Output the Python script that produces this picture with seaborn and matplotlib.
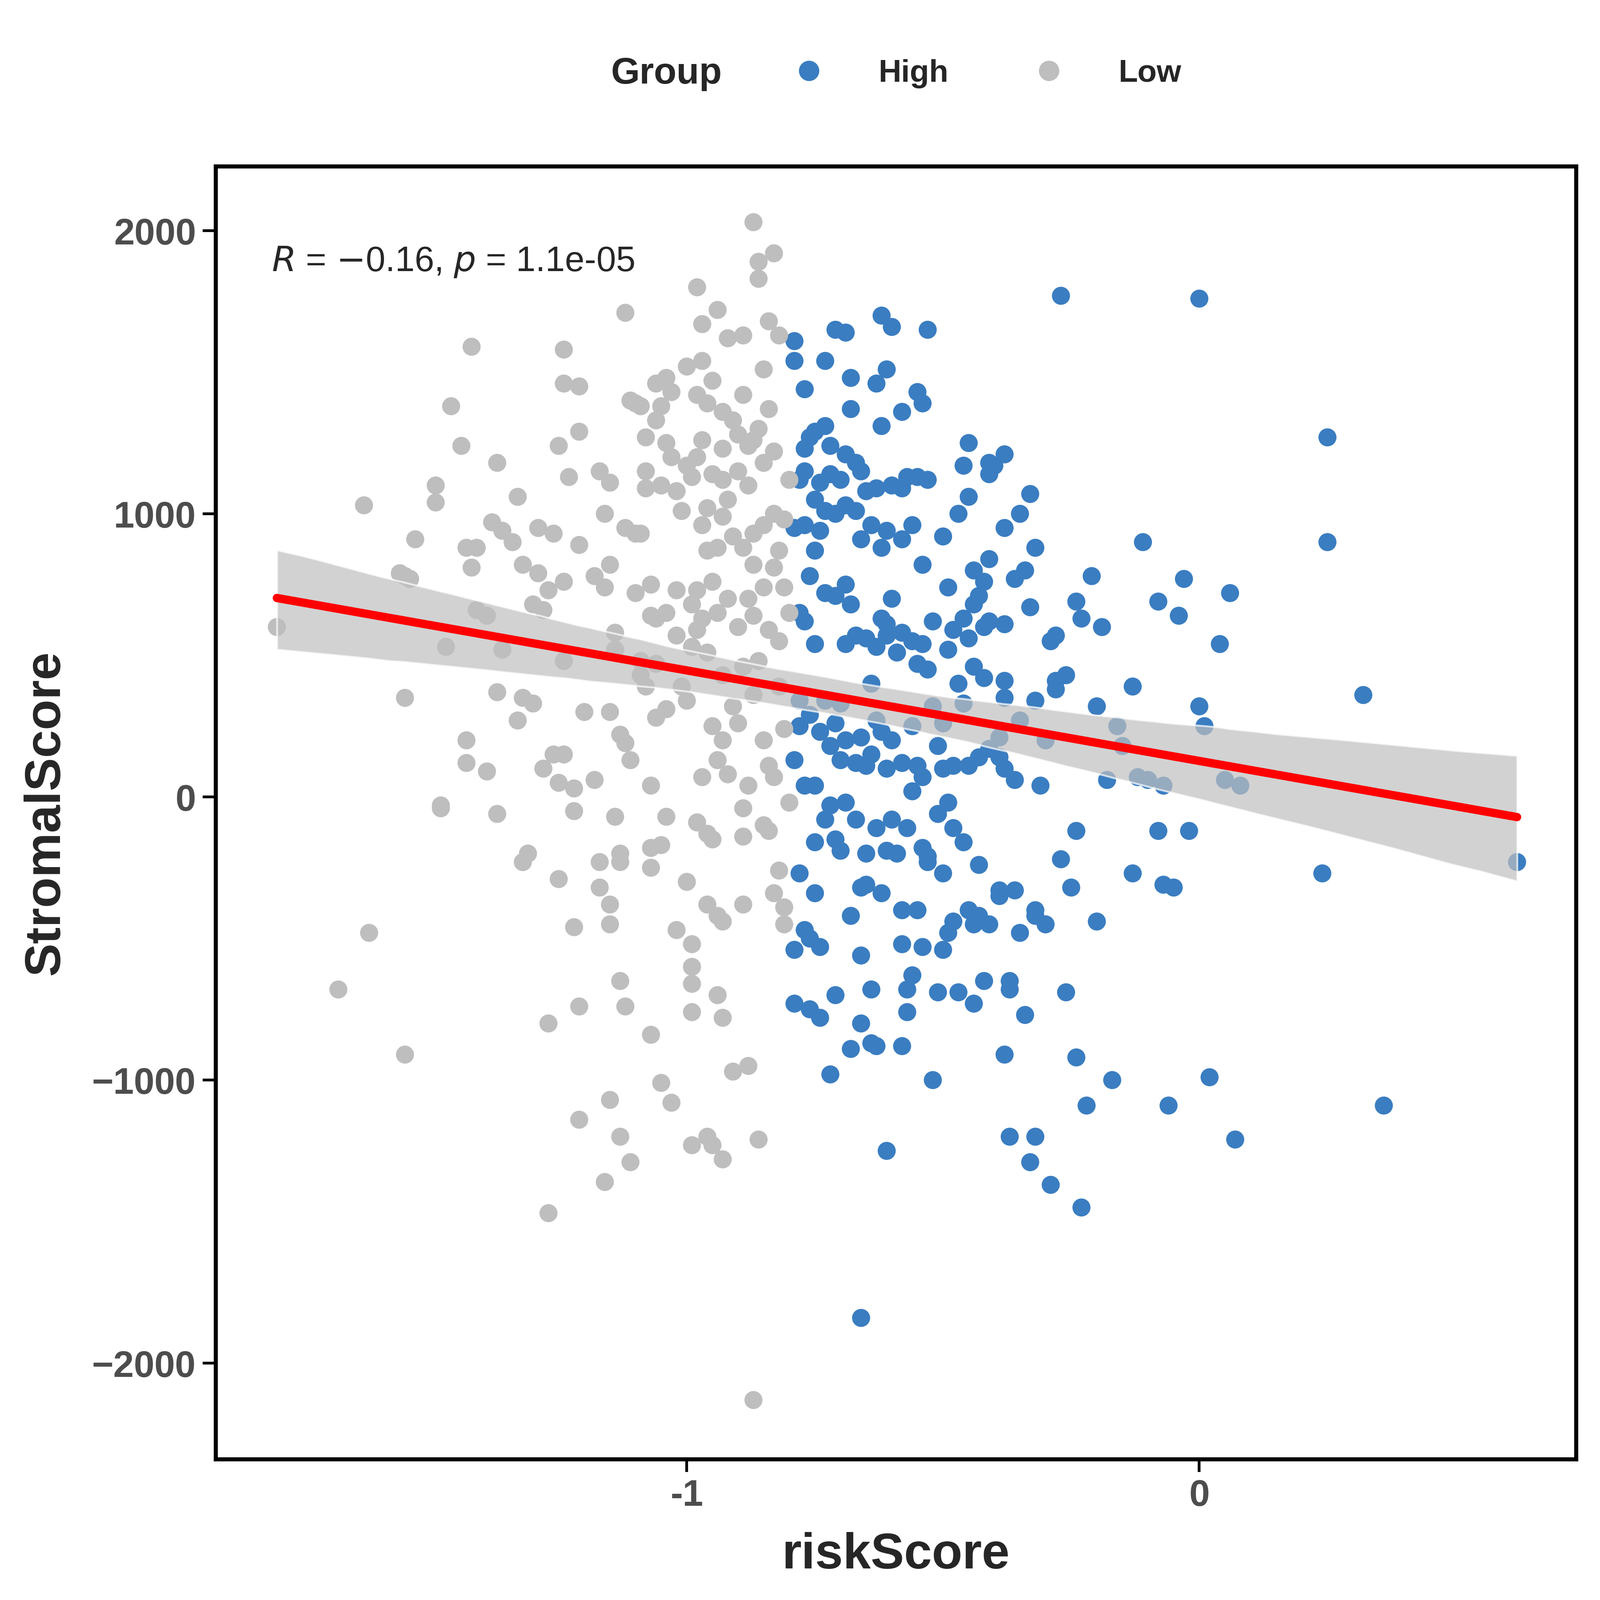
import numpy as np
import pandas as pd
import matplotlib
matplotlib.use("Agg")
import matplotlib.pyplot as plt
import seaborn as sns
from matplotlib.lines import Line2D

low_pts = [(-1.80,600),(-1.63,1030),(-1.68,-680),(-1.62,-480),(-1.55,780),(-1.54,770),(-1.53,910),(-1.56,790),(-1.55,350),(-1.55,-910),(-1.49,1100),(-1.49,1040),(-1.48,-30),(-1.48,-40),(-1.47,530),(-1.46,1380),(-1.44,1240),(-1.43,880),(-1.43,200),(-1.43,120),(-1.42,1590),(-1.42,810),(-1.41,880),(-1.41,660),(-1.39,640),(-1.39,90),(-1.38,970),(-1.37,1180),(-1.37,370),(-1.37,-60),(-1.36,940),(-1.36,520),(-1.34,900),(-1.33,1060),(-1.33,270),(-1.32,820),(-1.32,350),(-1.32,-230),(-1.31,-200),(-1.30,680),(-1.30,330),(-1.29,950),(-1.29,790),(-1.28,660),(-1.28,100),(-1.27,730),(-1.27,-800),(-1.27,-1470),(-1.26,930),(-1.26,150),(-1.25,1240),(-1.25,50),(-1.25,-290),(-1.24,760),(-1.24,480),(-1.24,150),(-1.24,1580),(-1.24,1460),(-1.23,1130),(-1.22,-50),(-1.22,30),(-1.22,-460),(-1.21,890),(-1.21,-740),(-1.21,-1140),(-1.21,1450),(-1.21,1290),(-1.20,300),(-1.18,780),(-1.18,60),(-1.17,-320),(-1.17,-230),(-1.17,1150),(-1.16,1000),(-1.16,740),(-1.16,-1360),(-1.15,820),(-1.15,1110),(-1.15,300),(-1.15,-380),(-1.15,-450),(-1.15,-1070),(-1.14,580),(-1.14,520),(-1.14,-70),(-1.13,-200),(-1.13,-230),(-1.13,220),(-1.13,-650),(-1.13,-1200),(-1.12,1710),(-1.12,950),(-1.12,190),(-1.12,-740),(-1.11,1400),(-1.11,130),(-1.11,-1290),(-1.10,1390),(-1.10,930),(-1.10,720),(-1.09,480),(-1.09,430),(-1.09,1380),(-1.09,930),(-1.08,1150),(-1.08,1270),(-1.08,390),(-1.08,1090),(-1.07,750),(-1.07,640),(-1.07,40),(-1.07,-180),(-1.07,-250),(-1.07,-840),(-1.06,1460),(-1.06,1330),(-1.06,630),(-1.06,470),(-1.06,280),(-1.05,-170),(-1.05,1100),(-1.05,-1010),(-1.05,1380),(-1.04,650),(-1.04,310),(-1.04,-70),(-1.04,1250),(-1.04,1480),(-1.03,-1080),(-1.03,1430),(-1.03,1200),(-1.02,730),(-1.02,-470),(-1.02,570),(-1.01,1010),(-1.01,390),(-1.00,1520),(-1.00,1170),(-1.00,340),(-1.00,-300),(-0.99,680),(-0.99,1130),(-0.99,-520),(-0.99,-660),(-0.99,-760),(-0.99,-1230),(-0.99,530),(-0.99,-600),(-0.98,1800),(-0.98,1420),(-0.98,1200),(-0.98,730),(-0.98,590),(-0.98,-90),(-0.97,960),(-0.97,1670),(-0.97,1540),(-0.97,1260),(-0.97,630),(-0.97,70),(-0.96,1020),(-0.96,870),(-0.96,1390),(-0.96,510),(-0.96,-130),(-0.96,-380),(-0.96,-1200),(-0.95,1470),(-0.95,1140),(-0.95,760),(-0.95,250),(-0.95,-150),(-0.94,1720),(-0.94,880),(-0.94,650),(-0.94,130),(-0.94,-420),(-0.94,-700),(-0.93,1360),(-0.93,1230),(-0.93,1120),(-0.93,990),(-0.93,430),(-0.93,200),(-0.93,-1280),(-0.93,-440),(-0.93,-780),(-0.92,1620),(-0.92,1050),(-0.92,700),(-0.92,80),(-0.91,1330),(-0.91,920),(-0.91,320),(-0.91,-970),(-0.90,1280),(-0.90,1150),(-0.90,600),(-0.90,260),(-0.89,1630),(-0.89,1420),(-0.89,880),(-0.89,460),(-0.89,-40),(-0.89,-140),(-0.89,-380),(-0.88,1240),(-0.88,1100),(-0.88,700),(-0.88,40),(-0.88,-950),(-0.87,2030),(-0.87,1260),(-0.87,930),(-0.87,820),(-0.87,640),(-0.87,360),(-0.86,1890),(-0.86,1830),(-0.86,1300),(-0.86,480),(-0.86,-1210),(-0.85,1510),(-0.85,1180),(-0.85,960),(-0.85,740),(-0.85,200),(-0.85,-100),(-0.84,1680),(-0.84,1370),(-0.84,590),(-0.84,110),(-0.84,-120),(-0.83,1920),(-0.83,1220),(-0.83,1000),(-0.83,810),(-0.83,70),(-0.83,-340),(-0.82,1630),(-0.82,870),(-0.82,550),(-0.82,390),(-0.82,-260),(-0.81,980),(-0.81,740),(-0.81,240),(-0.81,-390),(-0.81,-450),(-0.80,650),(-0.80,1120),(-0.80,-20),(-0.87,-2130),(-0.95,-1230),(-1.02,1080)]

high_pts = [(-0.79,1610),(-0.79,1540),(-0.79,950),(-0.79,-540),(-0.79,-730),(-0.79,130),(-0.78,1120),(-0.78,650),(-0.78,340),(-0.78,-270),(-0.78,250),(-0.77,1440),(-0.77,1230),(-0.77,1150),(-0.77,960),(-0.77,620),(-0.77,40),(-0.77,-470),(-0.76,1270),(-0.76,780),(-0.76,290),(-0.76,-750),(-0.76,-500),(-0.75,1290),(-0.75,1050),(-0.75,870),(-0.75,540),(-0.75,40),(-0.75,-160),(-0.75,-340),(-0.74,1110),(-0.74,940),(-0.74,230),(-0.74,-530),(-0.74,-780),(-0.73,1540),(-0.73,1310),(-0.73,1010),(-0.73,720),(-0.73,340),(-0.73,-80),(-0.72,1240),(-0.72,1140),(-0.72,180),(-0.72,-30),(-0.72,-980),(-0.71,1650),(-0.71,1000),(-0.71,710),(-0.71,260),(-0.71,-150),(-0.71,-700),(-0.70,1120),(-0.70,330),(-0.70,130),(-0.70,-190),(-0.69,1640),(-0.69,1210),(-0.69,1030),(-0.69,750),(-0.69,540),(-0.69,200),(-0.69,-20),(-0.68,1480),(-0.68,1370),(-0.68,680),(-0.68,-420),(-0.68,-890),(-0.67,1180),(-0.67,1010),(-0.67,570),(-0.67,120),(-0.67,-80),(-0.66,1150),(-0.66,910),(-0.66,210),(-0.66,-320),(-0.66,-560),(-0.66,-800),(-0.65,1080),(-0.65,560),(-0.65,110),(-0.65,-200),(-0.65,-310),(-0.64,960),(-0.64,400),(-0.64,150),(-0.64,-870),(-0.64,-680),(-0.63,1460),(-0.63,1090),(-0.63,530),(-0.63,270),(-0.63,-110),(-0.63,-880),(-0.62,1700),(-0.62,1310),(-0.62,880),(-0.62,630),(-0.62,230),(-0.62,-340),(-0.61,1510),(-0.61,940),(-0.61,610),(-0.61,100),(-0.61,-190),(-0.61,-1250),(-0.60,1660),(-0.60,1100),(-0.60,700),(-0.60,200),(-0.60,-80),(-0.59,510),(-0.59,-200),(-0.58,1360),(-0.58,1090),(-0.58,910),(-0.58,580),(-0.58,120),(-0.58,-400),(-0.58,-520),(-0.58,-880),(-0.57,1130),(-0.57,-680),(-0.57,-760),(-0.57,-110),(-0.56,960),(-0.56,550),(-0.56,250),(-0.56,20),(-0.56,-630),(-0.55,1430),(-0.55,1130),(-0.55,470),(-0.55,110),(-0.55,-400),(-0.54,1390),(-0.54,820),(-0.54,540),(-0.54,70),(-0.54,-530),(-0.54,-180),(-0.53,1650),(-0.53,1120),(-0.53,450),(-0.53,-230),(-0.53,-210),(-0.52,620),(-0.52,320),(-0.52,-1000),(-0.51,180),(-0.51,-60),(-0.51,-690),(-0.50,260),(-0.50,920),(-0.50,100),(-0.50,-270),(-0.50,-540),(-0.49,740),(-0.49,520),(-0.49,-20),(-0.49,-480),(-0.48,590),(-0.48,110),(-0.48,-440),(-0.48,-110),(-0.47,1000),(-0.47,400),(-0.47,-690),(-0.46,1170),(-0.46,630),(-0.46,330),(-0.46,-160),(-0.45,1250),(-0.45,1060),(-0.45,560),(-0.45,110),(-0.45,-400),(-0.44,800),(-0.44,680),(-0.44,460),(-0.44,-450),(-0.44,-730),(-0.43,710),(-0.43,140),(-0.43,-240),(-0.43,-420),(-0.42,760),(-0.42,420),(-0.42,600),(-0.42,-650),(-0.41,1180),(-0.41,1140),(-0.41,840),(-0.41,620),(-0.41,170),(-0.41,-450),(-0.40,1170),(-0.39,210),(-0.39,140),(-0.39,-330),(-0.39,-350),(-0.38,1210),(-0.38,950),(-0.38,610),(-0.38,410),(-0.38,350),(-0.38,100),(-0.38,-910),(-0.37,-1200),(-0.37,-650),(-0.37,-680),(-0.36,770),(-0.36,60),(-0.36,-330),(-0.35,1000),(-0.35,270),(-0.35,-480),(-0.34,800),(-0.34,-770),(-0.33,1070),(-0.33,670),(-0.33,-1290),(-0.32,880),(-0.32,340),(-0.32,-400),(-0.32,-420),(-0.31,40),(-0.30,200),(-0.30,-450),(-0.29,550),(-0.29,-1370),(-0.28,570),(-0.28,380),(-0.28,410),(-0.27,-220),(-0.26,430),(-0.25,-320),(-0.24,-120),(-0.24,690),(-0.23,630),(-0.23,-1450),(-0.22,-1090),(-0.21,780),(-0.20,320),(-0.19,600),(-0.18,60),(-0.17,-1000),(-0.16,250),(-0.13,-270),(-0.12,70),(-0.11,900),(-0.10,60),(-0.07,40),(-0.07,-310),(-0.27,1770),(0.00,1760),(0.25,1270),(0.25,900),(0.32,360),(0.36,-1090),(0.24,-270),(0.62,-230),(0.02,-990),(0.01,250),(0.07,-1210),(0.04,540),(0.06,720),(0.00,320),(-0.04,640),(-0.03,770),(-0.02,-120),(-0.05,-320),(0.05,60),(0.08,40),(-0.08,690),(-0.08,-120),(-0.06,-1090),(-0.61,570),(-0.32,-1200),(-0.66,-1840),(-0.26,-690),(-0.20,-440),(-0.24,-920),(-0.15,180),(-0.13,390)]

groups = ["High", "Low"]
colors = {"High": "#3A7DC1", "Low": "#BEBEBE"}

df = pd.concat([
    pd.DataFrame(high_pts, columns=["riskScore", "StromalScore"]).assign(Group="High"),
    pd.DataFrame(low_pts, columns=["riskScore", "StromalScore"]).assign(Group="Low"),
])

sns.set_style("white")
plt.rcParams['font.family'] = ['Liberation Sans', 'DejaVu Sans']

fig = plt.figure(figsize=(12, 12), dpi=300)
ax = fig.add_axes([0.1346, 0.088, 0.8504, 0.808])

sns.scatterplot(data=df, x="riskScore", y="StromalScore", hue="Group",
                palette=colors, s=95, linewidth=0, ax=ax, legend=False)
sns.regplot(data=df, x="riskScore", y="StromalScore", scatter=False, ax=ax,
            color="red", line_kws={"linewidth": 4.5},
            )
# adjust ci band color to grey
for coll in ax.collections[1:]:
    coll.set_facecolor("#BFBFBF"); coll.set_alpha(0.7)

ax.set_xlim(-1.92, 0.735)
ax.set_ylim(-2339, 2227)
ax.set_xticks([-1, 0])
ax.set_yticks([-2000, -1000, 0, 1000, 2000])
ax.set_xticklabels(["-1", "0"])
ax.tick_params(axis="both", labelsize=20, colors="#4D4D4D", length=7, width=1.5, direction="out",
               left=True, bottom=True)
for lab in ax.get_xticklabels() + ax.get_yticklabels():
    lab.set_fontweight("bold")
ax.tick_params(axis="both", color="black")
for sp in ax.spines.values():
    sp.set_linewidth(2.2); sp.set_color("black")
ax.set_xlabel("riskScore", fontsize=27, fontweight="bold", labelpad=10)
ax.set_ylabel("StromalScore", fontsize=27, fontweight="bold", labelpad=12)

ax.text(-1.81, 1890, r"$R$ = $-$0.16, $p$ = 1.1e-05", fontsize=19, va="center", ha="left")

handles = [Line2D([], [], marker="o", ls="", color=colors[g], markersize=10) for g in groups]
leg = fig.legend(handles, groups, loc="center", bbox_to_anchor=(0.56, 0.954), ncol=2,
                 frameon=False, title="Group", fontsize=17, handletextpad=1.2, columnspacing=2.2,
                 prop={"weight": "bold", "size": 17})
leg.get_title().set_fontweight("bold"); leg.get_title().set_fontsize(20)
leg._legend_box.align = "left"
leg._legend_box.sep = 0
# put title inline
from matplotlib.offsetbox import HPacker
title_box = leg._legend_title_box
leg._legend_box._children = [HPacker(pad=0, sep=30, children=[title_box] + leg._legend_box._children[1:], align="center")]

fig.savefig("out.png", dpi=300)
